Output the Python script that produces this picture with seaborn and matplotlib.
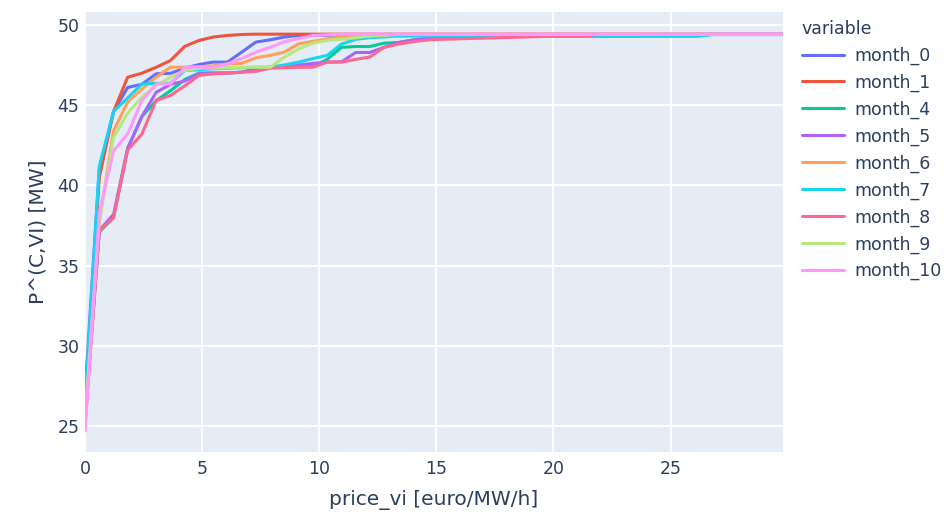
import matplotlib
matplotlib.use('Agg')
import matplotlib.pyplot as plt
import seaborn as sns
import pandas as pd

price_vi = [0.0, 0.61, 1.22, 1.82, 2.43, 3.04, 3.65, 4.26, 4.87, 5.47,
            6.08, 6.69, 7.3, 7.91, 8.51, 9.12, 9.73, 10.34, 10.95, 11.56,
            12.16, 12.77, 13.38, 13.99, 14.6, 15.2, 15.81, 16.42, 17.03, 17.64,
            18.24, 18.85, 19.46, 20.07, 20.68, 21.29, 21.89, 22.5, 23.11, 23.72,
            24.33, 24.93, 25.54, 26.15, 26.76, 27.37, 27.98, 28.58, 29.19, 29.8]

month_0 = [27.0, 41.0, 44.6, 46.1, 46.3, 46.95, 46.98, 47.3, 47.53, 47.68,
           47.68, 48.3, 48.93, 49.07, 49.24, 49.34, 49.35, 49.35, 49.36, 49.36,
           49.37, 49.37, 49.38, 49.38, 49.38, 49.38, 49.38, 49.38, 49.38, 49.38,
           49.4, 49.4, 49.4, 49.4, 49.4, 49.4, 49.4, 49.4, 49.4, 49.4,
           49.4, 49.4, 49.4, 49.4, 49.4, 49.4, 49.4, 49.4, 49.4, 49.4]
month_1 = [26.5, 40.5, 44.6, 46.74, 46.99, 47.36, 47.78, 48.66, 49.03, 49.24,
           49.34, 49.4, 49.42, 49.42, 49.42, 49.42, 49.42, 49.42, 49.42, 49.42,
           49.42, 49.42, 49.42, 49.42, 49.42, 49.42, 49.42, 49.42, 49.42, 49.42,
           49.42, 49.42, 49.42, 49.42, 49.42, 49.42, 49.42, 49.42, 49.42, 49.42,
           49.42, 49.42, 49.42, 49.42, 49.42, 49.42, 49.42, 49.42, 49.42, 49.42]
month_4 = [25.5, 37.1, 38.0, 42.3, 44.3, 45.28, 45.9, 46.6, 47.0, 47.0,
           47.0, 47.05, 47.26, 47.36, 47.36, 47.38, 47.4, 47.85, 48.6, 48.65,
           48.65, 48.86, 48.9, 49.05, 49.15, 49.2, 49.22, 49.24, 49.26, 49.28,
           49.3, 49.3, 49.3, 49.3, 49.3, 49.3, 49.3, 49.3, 49.3, 49.3,
           49.3, 49.3, 49.3, 49.3, 49.4, 49.4, 49.4, 49.4, 49.4, 49.4]
month_5 = [26.0, 37.2, 38.2, 42.3, 44.3, 45.8, 46.3, 46.5, 46.95, 47.0,
           47.0, 47.05, 47.26, 47.36, 47.36, 47.5, 47.6, 47.68, 47.7, 48.28,
           48.28, 48.6, 48.9, 49.05, 49.15, 49.2, 49.22, 49.25, 49.28, 49.3,
           49.32, 49.32, 49.32, 49.32, 49.32, 49.32, 49.32, 49.32, 49.32, 49.32,
           49.4, 49.4, 49.4, 49.4, 49.4, 49.4, 49.4, 49.4, 49.4, 49.4]
month_6 = [25.5, 37.7, 43.4, 45.2, 46.0, 46.74, 47.36, 47.36, 47.4, 47.45,
           47.57, 47.6, 47.95, 48.1, 48.3, 48.82, 48.98, 49.13, 49.25, 49.3,
           49.35, 49.4, 49.4, 49.4, 49.4, 49.4, 49.4, 49.4, 49.4, 49.4,
           49.4, 49.4, 49.4, 49.4, 49.4, 49.4, 49.4, 49.4, 49.4, 49.4,
           49.4, 49.4, 49.4, 49.4, 49.4, 49.4, 49.4, 49.4, 49.4, 49.4]
month_7 = [26.5, 41.2, 44.6, 45.45, 46.32, 46.36, 46.36, 47.16, 47.2, 47.26,
           47.3, 47.33, 47.36, 47.36, 47.5, 47.68, 47.9, 48.1, 48.8, 49.1,
           49.2, 49.25, 49.3, 49.3, 49.3, 49.3, 49.3, 49.3, 49.3, 49.3,
           49.3, 49.3, 49.3, 49.3, 49.3, 49.3, 49.3, 49.3, 49.3, 49.3,
           49.3, 49.3, 49.3, 49.3, 49.4, 49.4, 49.4, 49.4, 49.4, 49.4]
month_8 = [25.0, 37.15, 38.0, 42.2, 43.2, 45.3, 45.6, 46.2, 46.85, 46.95,
           47.0, 47.05, 47.1, 47.3, 47.33, 47.36, 47.36, 47.68, 47.68, 47.85,
           48.0, 48.6, 48.8, 48.95, 49.05, 49.1, 49.12, 49.15, 49.17, 49.2,
           49.22, 49.25, 49.27, 49.3, 49.3, 49.3, 49.4, 49.4, 49.4, 49.4,
           49.4, 49.4, 49.4, 49.4, 49.4, 49.4, 49.4, 49.4, 49.4, 49.4]
month_9 = [25.5, 37.8, 43.0, 44.5, 45.5, 46.22, 46.74, 47.16, 47.3, 47.3,
           47.33, 47.36, 47.36, 47.36, 47.99, 48.5, 48.86, 49.03, 49.1, 49.2,
           49.3, 49.35, 49.4, 49.4, 49.4, 49.4, 49.4, 49.4, 49.4, 49.4,
           49.4, 49.4, 49.4, 49.4, 49.4, 49.4, 49.4, 49.4, 49.4, 49.4,
           49.4, 49.4, 49.4, 49.4, 49.4, 49.4, 49.4, 49.4, 49.4, 49.4]
month_10 = [24.7, 38.3, 42.15, 43.2, 45.3, 46.32, 46.32, 47.36, 47.36, 47.36,
            47.57, 47.9, 48.3, 48.6, 48.95, 49.15, 49.34, 49.38, 49.42, 49.42,
            49.42, 49.42, 49.42, 49.42, 49.42, 49.42, 49.42, 49.42, 49.42, 49.42,
            49.42, 49.42, 49.42, 49.42, 49.42, 49.42, 49.42, 49.42, 49.42, 49.42,
            49.42, 49.42, 49.42, 49.42, 49.42, 49.42, 49.42, 49.42, 49.42, 49.42]

series_names = ['month_0', 'month_1', 'month_4', 'month_5', 'month_6',
                'month_7', 'month_8', 'month_9', 'month_10']
colors = ['#636EFA', '#EF553B', '#00CC96', '#AB63FA', '#FFA15A',
          '#19D3F3', '#FF6692', '#B6E880', '#FF97FF']
x_ticks = [0, 5, 10, 15, 20, 25]
y_ticks = [25, 30, 35, 40, 45, 50]

df = pd.DataFrame({
    'price_vi': price_vi,
    'month_0': month_0, 'month_1': month_1, 'month_4': month_4,
    'month_5': month_5, 'month_6': month_6, 'month_7': month_7,
    'month_8': month_8, 'month_9': month_9, 'month_10': month_10,
})
long_df = df.melt(id_vars='price_vi', var_name='variable', value_name='value')

sns.set_theme(style='white')
plt.rcParams['font.family'] = ['DejaVu Sans']
TXT = '#2a3f5f'

fig = plt.figure(figsize=(9.45, 5.14), dpi=100)
W, H = 945, 514
ax = fig.add_axes([85 / W, 1 - 452 / H, (783 - 85) / W, (452 - 12) / H])

sns.lineplot(data=long_df, x='price_vi', y='value', hue='variable',
             hue_order=series_names, palette=colors, linewidth=2.2,
             estimator=None, errorbar=None, ax=ax)

ax.set_facecolor('#E5ECF6')
for s in ax.spines.values():
    s.set_visible(False)
ax.set_axisbelow(True)
ax.grid(True, color='white', linewidth=1.3)
ax.set_xlim(0, 29.8)
ax.set_ylim(23.4, 50.8)
ax.set_xticks(x_ticks)
ax.set_yticks(y_ticks)
ax.tick_params(axis='both', length=0, labelsize=12.5, colors=TXT)
ax.tick_params(axis='x', pad=6)
ax.tick_params(axis='y', pad=4)

ax.set_xlabel('price_vi [euro/MW/h]', fontsize=14.5, color=TXT)
ax.xaxis.label.set_va('center')
ax.xaxis.set_label_coords(0.5, -(500 - 452) / 440)
ax.set_ylabel('P^(C,VI) [MW]', fontsize=14.5, color=TXT)
ax.yaxis.label.set_va('center')
ax.yaxis.set_label_coords(-(85 - 38) / 698, 0.5)

handles, labels = ax.get_legend_handles_labels()
leg = ax.legend(handles, labels, title='variable', loc='upper left',
                bbox_to_anchor=(795 / W, 1 - 13 / H), bbox_transform=fig.transFigure,
                frameon=False, fontsize=12.5, title_fontsize=12.5,
                handlelength=2.4, handletextpad=0.6, labelspacing=0.5,
                alignment='left', borderaxespad=0)
for t in leg.get_texts():
    t.set_color(TXT)
leg.get_title().set_color(TXT)

fig.savefig('out.png', dpi=100)
